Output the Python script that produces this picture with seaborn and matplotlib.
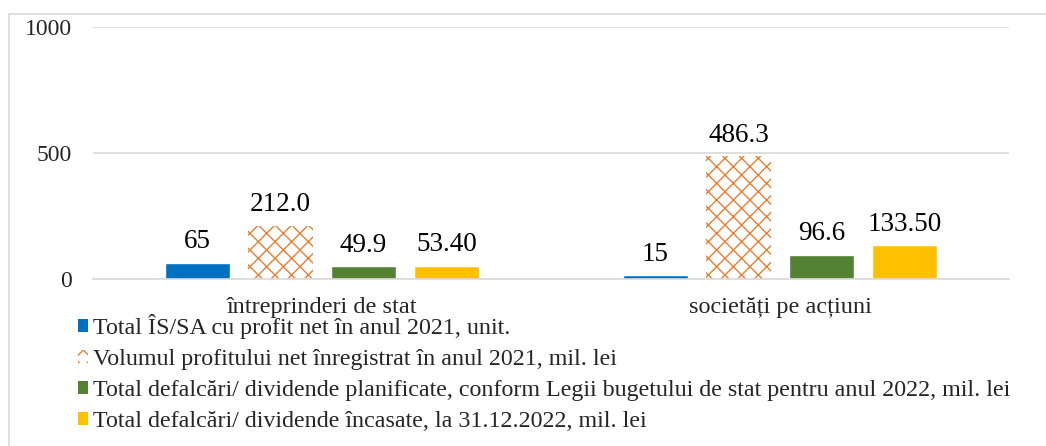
import matplotlib.pyplot as plt
import pandas as pd
import seaborn as sns
from matplotlib.patches import Rectangle

sns.set_style("white")
plt.rcParams["font.family"] = ["Liberation Serif", "DejaVu Serif"]
plt.rcParams["hatch.linewidth"] = 1.0

# data
categories = ["întreprinderi de stat", "societăți pe acțiuni"]
series = [
    "Total ÎS/SA cu profit net în anul 2021, unit.",
    "Volumul profitului net înregistrat în anul 2021, mil. lei",
    "Total defalcări/ dividende planificate, conform Legii bugetului de stat pentru anul 2022, mil. lei",
    "Total defalcări/ dividende încasate, la 31.12.2022, mil. lei",
]
profit_units = [65, 15]
profit_volume = [212.0, 486.3]
div_planned = [49.9, 96.6]
div_received = [53.40, 133.50]
value_labels = [
    ["65", "15"],
    ["212.0", "486.3"],
    ["49.9", "96.6"],
    ["53.40", "133.50"],
]
colors = ["#0070C0", "#ED7D31", "#548235", "#FFC000"]

rows = []
for s, vals in zip(series, [profit_units, profit_volume, div_planned, div_received]):
    for c, v in zip(categories, vals):
        rows.append({"cat": c, "series": s, "value": v})
df = pd.DataFrame(rows)

fig = plt.figure(figsize=(10.46, 4.46), dpi=100)
ax = fig.add_axes([0.0889, 0.3744, 0.8757, 0.5651])

sns.barplot(data=df, x="cat", y="value", hue="series", palette=colors,
            width=0.725, gap=0.21, saturation=1, ax=ax, legend=False)

# hatched series
for bar in ax.containers[1]:
    bar.set_facecolor("white")
    bar.set_edgecolor(colors[1])
    bar.set_hatch("xx")
    bar.set_linewidth(0)

for cont, labs in zip(ax.containers, value_labels):
    ax.bar_label(cont, labels=labs, padding=6, fontsize=19.5, color="#000000")

ax.set_ylim(0, 1000)
ax.set_yticks([0, 500, 1000])
ax.yaxis.grid(True, color="#d9d9d9", linewidth=1.2)
ax.set_axisbelow(True)
for side in ["top", "right", "left"]:
    ax.spines[side].set_visible(False)
ax.spines["bottom"].set_color("#d9d9d9")
ax.spines["bottom"].set_linewidth(1.2)
ax.tick_params(axis="y", length=0, pad=15, labelsize=17)
ax.tick_params(axis="x", length=0, pad=13, labelsize=17.5)
ax.set_xlabel("")
ax.set_ylabel("")

# legend below the plot
handles = []
for i, c in enumerate(colors):
    if i == 1:
        handles.append(Rectangle((0, 0), 1, 1, facecolor="white", edgecolor=c,
                                 hatch="xx", linewidth=0))
    else:
        handles.append(Rectangle((0, 0), 1, 1, facecolor=c, linewidth=0))
ax.legend(handles, series, loc="upper left", bbox_to_anchor=(0.075, 0.296),
          bbox_transform=fig.transFigure, frameon=False, fontsize=17.3,
          handlelength=0.4, handleheight=0.45, handletextpad=0.22,
          labelspacing=0.42, borderaxespad=0, borderpad=0)

fig.patches.append(Rectangle((0.0086, -0.1), 1.2, 1.0686, transform=fig.transFigure,
                             fill=False, edgecolor="#d9d9d9", linewidth=1.2))

fig.savefig("out.png", dpi=100)
